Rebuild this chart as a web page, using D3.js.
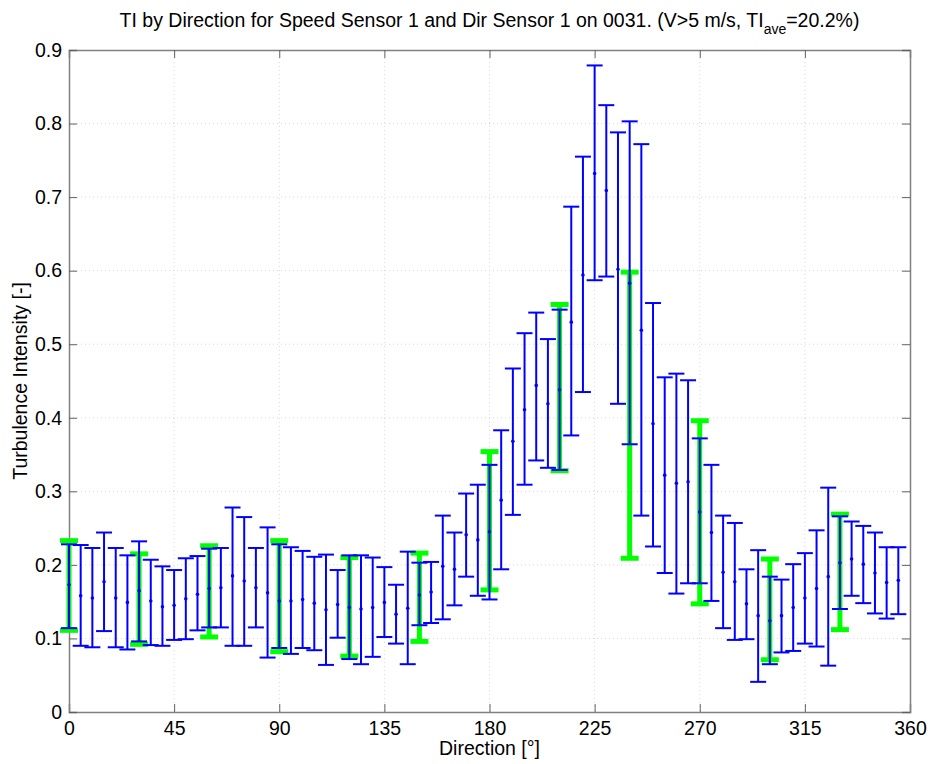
<!DOCTYPE html>
<html>
<head>
<meta charset="utf-8">
<script src="https://cdn.jsdelivr.net/npm/d3@7"></script>
<style>
  body { margin: 0; background: #fff; }
  text { font-family: "Liberation Sans", Arial, sans-serif; }
</style>
</head>
<body>
<div id="chart"></div>
<script>
// 5 degree bins
const directions = [0, 5, 10, 15, 20, 25, 30, 35, 40, 45, 50, 55, 60, 65, 70, 75, 80, 85,
  90, 95, 100, 105, 110, 115, 120, 125, 130, 135, 140, 145, 150, 155, 160, 165, 170, 175,
  180, 185, 190, 195, 200, 205, 210, 215, 220, 225, 230, 235, 240, 245, 250, 255, 260, 265,
  270, 275, 280, 285, 290, 295, 300, 305, 310, 315, 320, 325, 330, 335, 340, 345, 350, 355];
const tiMean = [0.173, 0.158, 0.155, 0.177, 0.155, 0.149, 0.165, 0.151, 0.143, 0.145, 0.154, 0.160,
  0.168, 0.169, 0.185, 0.178, 0.169, 0.162, 0.151, 0.151, 0.153, 0.148, 0.139, 0.146,
  0.142, 0.140, 0.142, 0.149, 0.133, 0.141, 0.159, 0.163, 0.198, 0.194, 0.241, 0.234,
  0.245, 0.288, 0.368, 0.411, 0.444, 0.419, 0.438, 0.530, 0.594, 0.732, 0.709, 0.602,
  0.583, 0.519, 0.392, 0.322, 0.311, 0.313, 0.272, 0.244, 0.190, 0.177, 0.147, 0.131,
  0.124, 0.131, 0.142, 0.155, 0.168, 0.184, 0.203, 0.208, 0.201, 0.189, 0.176, 0.179];
const tiLow = [0.114, 0.090, 0.088, 0.110, 0.088, 0.085, 0.096, 0.091, 0.090, 0.098, 0.099, 0.111,
  0.115, 0.115, 0.090, 0.090, 0.115, 0.074, 0.087, 0.079, 0.087, 0.084, 0.064, 0.101,
  0.072, 0.065, 0.075, 0.102, 0.093, 0.065, 0.118, 0.121, 0.126, 0.145, 0.184, 0.158,
  0.153, 0.194, 0.268, 0.309, 0.342, 0.332, 0.329, 0.376, 0.435, 0.587, 0.592, 0.419,
  0.364, 0.267, 0.225, 0.189, 0.161, 0.175, 0.175, 0.151, 0.114, 0.098, 0.099, 0.041,
  0.065, 0.081, 0.083, 0.093, 0.089, 0.063, 0.140, 0.158, 0.148, 0.134, 0.127, 0.133];
const tiHigh = [0.228, 0.227, 0.223, 0.244, 0.223, 0.213, 0.232, 0.207, 0.198, 0.193, 0.209, 0.212,
  0.222, 0.223, 0.278, 0.265, 0.223, 0.251, 0.228, 0.224, 0.219, 0.211, 0.214, 0.193,
  0.213, 0.213, 0.210, 0.197, 0.173, 0.218, 0.203, 0.204, 0.267, 0.244, 0.297, 0.309,
  0.336, 0.383, 0.467, 0.515, 0.543, 0.507, 0.547, 0.687, 0.755, 0.879, 0.825, 0.788,
  0.803, 0.772, 0.556, 0.455, 0.460, 0.451, 0.372, 0.336, 0.267, 0.257, 0.194, 0.220,
  0.184, 0.180, 0.201, 0.216, 0.247, 0.305, 0.266, 0.259, 0.253, 0.244, 0.224, 0.224];

// 30 degree sectors (green)
const sectorDirs = [0, 30, 60, 90, 120, 150, 180, 210, 240, 270, 300, 330];
const sectorLow = [0.111, 0.092, 0.102, 0.082, 0.076, 0.096, 0.166, 0.328, 0.209, 0.147, 0.071, 0.112];
const sectorHigh = [0.233, 0.215, 0.226, 0.233, 0.210, 0.216, 0.354, 0.554, 0.598, 0.396, 0.208, 0.269];

const xTicks = [0, 45, 90, 135, 180, 225, 270, 315, 360];
const yTicks = [0, 0.1, 0.2, 0.3, 0.4, 0.5, 0.6, 0.7, 0.8, 0.9];

const W = 930, H = 764;
const margin = { top: 50, right: 20, bottom: 52, left: 69 };
const iw = W - margin.left - margin.right;
const ih = H - margin.top - margin.bottom;
const fontSize = "19.5px";

const svg = d3.select("#chart").append("svg").attr("width", W).attr("height", H);
const g = svg.append("g").attr("transform", `translate(${margin.left},${margin.top})`);

const x = d3.scaleLinear().domain([0, 360]).range([0, iw]);
const y = d3.scaleLinear().domain([0, 0.9]).range([ih, 0]);

// grid
g.append("g").selectAll("line").data(xTicks.slice(1, -1)).join("line")
  .attr("x1", d => x(d)).attr("x2", d => x(d)).attr("y1", 0).attr("y2", ih)
  .attr("stroke", "#d8d8d8").attr("stroke-dasharray", "1,3");
g.append("g").selectAll("line").data(yTicks.slice(1, -1)).join("line")
  .attr("x1", 0).attr("x2", iw).attr("y1", d => y(d)).attr("y2", d => y(d))
  .attr("stroke", "#d8d8d8").attr("stroke-dasharray", "1,3");

// axes, ticks pointing inward
const tickLen = 8;
const xAxis = g.append("g").attr("transform", `translate(0,${ih})`)
  .call(d3.axisBottom(x).tickValues(xTicks).tickSize(-tickLen).tickPadding(9).tickFormat(d3.format("d")));
const xAxisTop = g.append("g")
  .call(d3.axisTop(x).tickValues(xTicks).tickSize(-tickLen).tickFormat(""));
const yAxis = g.append("g")
  .call(d3.axisLeft(y).tickValues(yTicks).tickSize(-tickLen).tickPadding(7).tickFormat(d => d === 0 ? "0" : d3.format(".1f")(d)));
const yAxisRight = g.append("g").attr("transform", `translate(${iw},0)`)
  .call(d3.axisRight(y).tickValues(yTicks).tickSize(-tickLen).tickFormat(""));

[xAxis, xAxisTop, yAxis, yAxisRight].forEach(a => {
  a.select(".domain").attr("stroke", "#808080").attr("stroke-width", 1.5);
  a.selectAll(".tick line").attr("stroke", "#606060");
  a.selectAll("text").attr("fill", "#000").style("font-size", fontSize)
    .style("font-family", "'Liberation Sans', Arial, sans-serif");
});

// green sector bars
const sectors = sectorDirs.map((d, i) => ({ dir: d, lo: sectorLow[i], hi: sectorHigh[i] }));
const green = "#00ff00", gw = 5, gcap = 9;
const sg = g.append("g");
sg.selectAll(".sv").data(sectors).join("line")
  .attr("x1", d => x(d.dir)).attr("x2", d => x(d.dir))
  .attr("y1", d => y(d.lo)).attr("y2", d => y(d.hi))
  .attr("stroke", green).attr("stroke-width", gw);
sg.selectAll(".sl").data(sectors).join("line")
  .attr("x1", d => x(d.dir) - gcap).attr("x2", d => x(d.dir) + gcap)
  .attr("y1", d => y(d.lo)).attr("y2", d => y(d.lo))
  .attr("stroke", green).attr("stroke-width", gw);
sg.selectAll(".sh").data(sectors).join("line")
  .attr("x1", d => x(d.dir) - gcap).attr("x2", d => x(d.dir) + gcap)
  .attr("y1", d => y(d.hi)).attr("y2", d => y(d.hi))
  .attr("stroke", green).attr("stroke-width", gw);

// blue bin bars
const bins = directions.map((d, i) => ({ dir: d, m: tiMean[i], lo: tiLow[i], hi: tiHigh[i] }));
const blue = "#0000ff", bcap = 8;
const bg = g.append("g");
bg.selectAll(".v").data(bins).join("line")
  .attr("x1", d => x(d.dir)).attr("x2", d => x(d.dir))
  .attr("y1", d => y(d.lo)).attr("y2", d => y(d.hi))
  .attr("stroke", blue).attr("stroke-width", 2);
bg.selectAll(".lo").data(bins).join("line")
  .attr("x1", d => x(d.dir) - bcap).attr("x2", d => x(d.dir) + bcap)
  .attr("y1", d => y(d.lo)).attr("y2", d => y(d.lo))
  .attr("stroke", blue).attr("stroke-width", 2);
bg.selectAll(".hi").data(bins).join("line")
  .attr("x1", d => x(d.dir) - bcap).attr("x2", d => x(d.dir) + bcap)
  .attr("y1", d => y(d.hi)).attr("y2", d => y(d.hi))
  .attr("stroke", blue).attr("stroke-width", 2);
bg.selectAll("circle").data(bins).join("circle")
  .attr("cx", d => x(d.dir)).attr("cy", d => y(d.m)).attr("r", 1.8)
  .attr("fill", blue);

// title and labels
const title = svg.append("text").attr("x", margin.left + iw / 2).attr("y", 26.5)
  .attr("text-anchor", "middle").style("font-size", fontSize);
title.append("tspan").text("TI by Direction for Speed Sensor 1 and Dir Sensor 1 on 0031. (V>5 m/s, TI");
title.append("tspan").attr("dy", 7).style("font-size", "14px").text("ave");
title.append("tspan").attr("dy", -7).text("=20.2%)");

svg.append("text").attr("x", margin.left + iw / 2).attr("y", 755)
  .attr("text-anchor", "middle").style("font-size", fontSize).text("Direction [°]");
svg.append("text").attr("transform", `translate(27,${margin.top + ih / 2}) rotate(-90)`)
  .attr("text-anchor", "middle").style("font-size", fontSize).text("Turbulence Intensity [-]");
</script>
</body>
</html>
